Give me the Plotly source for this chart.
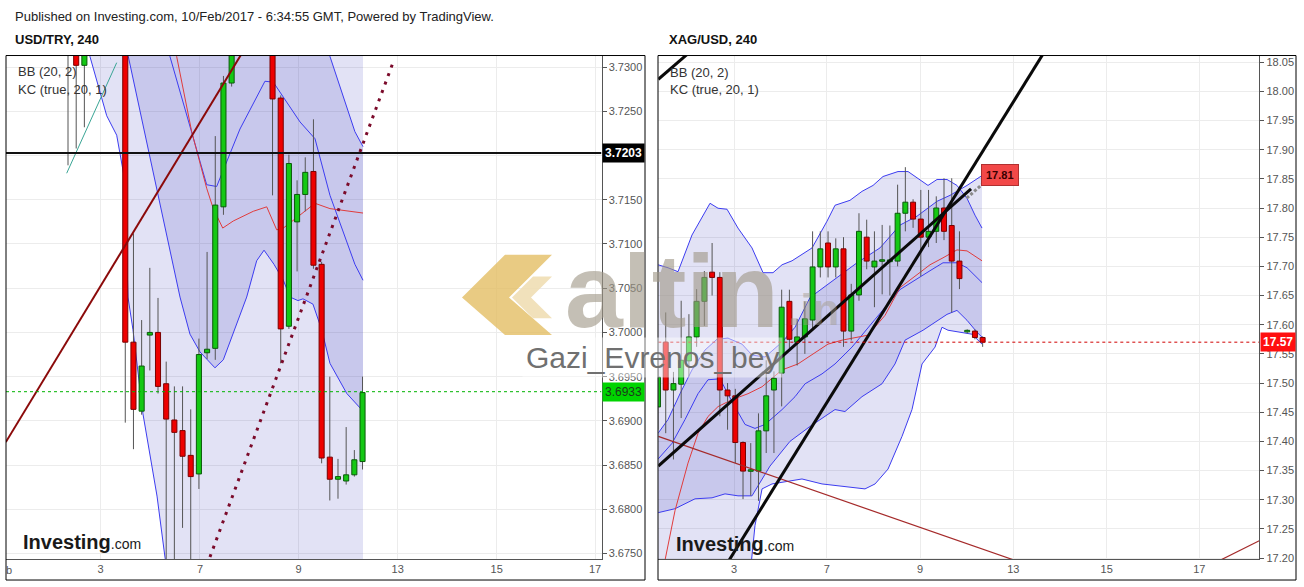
import plotly.graph_objects as go

W, H = 1304, 587
FONT = "Liberation Sans, Arial, sans-serif"

# ================= USD/TRY (left panel) =================
usd_idx   = [-4, -3, -2, 3, 4, 5, 6, 7, 8, 9, 10, 11, 12, 13, 14, 15, 16,
             21, 22, 23, 24, 25, 26, 27, 28, 29, 30, 31, 32]
usd_open  = [3.7325, 3.7345, 3.7302, 3.7350, 3.6989, 3.6911, 3.6997, 3.7000, 3.6942, 3.6901,
             3.6889, 3.6861, 3.6840, 3.6977, 3.6982, 3.7142, 3.7282,
             3.7345, 3.7265, 3.7007, 3.7125, 3.7156, 3.7182, 3.7077, 3.6859, 3.6834,
             3.6832, 3.6839, 3.6854]
usd_high  = [3.7360, 3.7360, 3.7360, 3.7360, 3.7112, 3.7014, 3.7073, 3.7039, 3.6967, 3.6939,
             3.6939, 3.6913, 3.6993, 3.7091, 3.7222, 3.7290, 3.7360,
             3.7360, 3.7268, 3.7201, 3.7172, 3.7198, 3.7241, 3.7080, 3.6950, 3.6857,
             3.6893, 3.6867, 3.6950]
usd_low   = [3.7189, 3.7208, 3.7232, 3.6898, 3.6868, 3.6907, 3.6957, 3.6931, 3.6735, 3.6738,
             3.6779, 3.6743, 3.6823, 3.6970, 3.6969, 3.7133, 3.7278,
             3.7155, 3.6965, 3.7004, 3.7069, 3.7137, 3.7072, 3.6852, 3.6810, 3.6812,
             3.6828, 3.6837, 3.6845]
usd_close = [3.7345, 3.7302, 3.7340, 3.6989, 3.6913, 3.6962, 3.7000, 3.6939, 3.6902, 3.6887,
             3.6860, 3.6837, 3.6975, 3.6981, 3.7144, 3.7282, 3.7340,
             3.7264, 3.7004, 3.7191, 3.7156, 3.7181, 3.7076, 3.6858, 3.6834, 3.6837,
             3.6839, 3.6856, 3.6932]

usd_bb_upper_x = [-11.6, 3.0, 10.0, 20.0, 32.06]
usd_bb_upper_y = [3.785, 3.775, 3.765, 3.760, 3.758]
usd_bb_lower_x = [-11.6, -2.5, -1.32, 0.73, 1.95, 2.96, 3.33, 3.94, 5.16, 6.88, 7.85, 9.08, 20.0, 32.06]
usd_bb_lower_y = [3.745, 3.7354, 3.7312, 3.7245, 3.7223, 3.7171, 3.7040, 3.7003, 3.6908, 3.6815,
                  3.6746, 3.668, 3.655, 3.660]
usd_bb_basis_x = [8.0, 9.28, 11.12, 12.95, 13.76, 14.91, 16.2, 18.65, 20.29, 21.51, 22.32, 26.19, 28.02, 32.06]
usd_bb_basis_y = [3.735, 3.7312, 3.7227, 3.7163, 3.7140, 3.7118, 3.7126, 3.7137, 3.7142, 3.7116,
                  3.7118, 3.7146, 3.7140, 3.7135]
usd_kc_upper_x = [-11.6, 3.37, 9.69, 13.96, 17.84, 19.96, 22.32, 24.11, 25.94, 28.02, 31.07, 32.06]
usd_kc_upper_y = [3.790, 3.770, 3.760, 3.737, 3.741, 3.748, 3.746, 3.743, 3.740, 3.7312, 3.7227, 3.7210]
usd_kc_lower_x = [-11.6, 2.11, 3.37, 8.06, 9.69, 10.91, 12.13, 13.96, 14.98, 17.84, 19.06, 19.96,
                  21.18, 22.32, 23.13, 24.11, 24.72, 25.94, 27.01, 28.02, 30.07, 32.06]
usd_kc_lower_y = [3.752, 3.7354, 3.7312, 3.7110, 3.7040, 3.6998, 3.6978, 3.6960, 3.6969, 3.7040,
                  3.7081, 3.7093, 3.7077, 3.7059, 3.7040, 3.7036, 3.7038, 3.7032, 3.7003, 3.6965,
                  3.6931, 3.6911]
usd_kc_basis_x = [7.24, 8.46, 12.95, 14.17, 17.02, 20.07, 21.09, 24.36, 26.19, 28.02, 31.07, 32.06]
usd_kc_basis_y = [3.7354, 3.7312, 3.7167, 3.7165, 3.7230, 3.7284, 3.7283, 3.7238, 3.7219, 3.7155,
                  3.7077, 3.7059]

usd_trend_x = [-11.6, 18.0]
usd_trend_y = [3.6876, 3.7327]
usd_dotted_x = [13.35, 35.76]
usd_dotted_y = [3.6746, 3.7306]
usd_teal_x = [-4.16, 1.95]
usd_teal_y = [3.7180, 3.7305]
usd_hline = 3.7203
usd_last = 3.6933

usd_tick_pos = [-0.03, 12.13, 24.17, 36.30, 48.40, 60.42]
usd_tick_text = ["3", "7", "9", "13", "15", "17"]
usd_y_range = [3.67436, 3.73131]
usd_x_range = [-11.58, 61.21]

# ================= XAG/USD (right panel) =================
xag_idx = list(range(-1, 42))
xag_open  = [17.459, 17.570, 17.488, 17.498, 17.538, 17.579, 17.640, 17.690, 17.681, 17.488,
             17.478, 17.398, 17.349, 17.349, 17.418, 17.488, 17.517, 17.640, 17.570, 17.579,
             17.608, 17.699, 17.740, 17.699, 17.730, 17.589, 17.651, 17.750, 17.699, 17.709,
             17.708, 17.709, 17.791, 17.810, 17.781, 17.750, 17.760, 17.800, 17.770, 17.709,
             17.588, 17.589, 17.578]
xag_high  = [17.530, 17.621, 17.519, 17.641, 17.618, 17.661, 17.692, 17.740, 17.690, 17.500,
             17.490, 17.400, 17.397, 17.448, 17.539, 17.520, 17.660, 17.660, 17.610, 17.640,
             17.760, 17.760, 17.760, 17.748, 17.750, 17.670, 17.791, 17.780, 17.760, 17.771,
             17.770, 17.840, 17.870, 17.815, 17.831, 17.831, 17.820, 17.851, 17.851, 17.760,
             17.592, 17.592, 17.580]
xag_low   = [17.420, 17.414, 17.369, 17.440, 17.511, 17.562, 17.598, 17.650, 17.443, 17.420,
             17.363, 17.301, 17.307, 17.298, 17.380, 17.380, 17.460, 17.560, 17.530, 17.550,
             17.590, 17.681, 17.681, 17.681, 17.562, 17.573, 17.641, 17.695, 17.630, 17.652,
             17.650, 17.700, 17.760, 17.766, 17.683, 17.733, 17.740, 17.745, 17.621, 17.661,
             17.585, 17.575, 17.562]
xag_close = [17.510, 17.488, 17.499, 17.539, 17.579, 17.640, 17.681, 17.681, 17.488, 17.478,
             17.398, 17.349, 17.351, 17.418, 17.478, 17.508, 17.630, 17.575, 17.579, 17.610,
             17.699, 17.730, 17.699, 17.730, 17.589, 17.651, 17.760, 17.709, 17.709, 17.711,
             17.711, 17.791, 17.810, 17.781, 17.750, 17.760, 17.800, 17.760, 17.709, 17.679,
             17.590, 17.578, 17.570]

xag_kc_upper_x = [-1.0, 0.30, 1.59, 3.40, 5.73, 6.77, 7.93, 9.35, 11.16, 12.59, 13.88, 15.05, 16.34,
                  18.93, 20.87, 21.90, 23.84, 25.39, 26.82, 28.11, 30.05, 31.35, 32.64, 33.93, 35.10,
                  36.39, 37.68, 38.98, 40.01, 40.92]
xag_kc_upper_y = [17.7027, 17.6976, 17.6908, 17.7537, 17.8081, 17.7996, 17.7979, 17.7656, 17.7316,
                  17.6891, 17.6891, 17.7027, 17.7095, 17.7316, 17.7775, 17.8047, 17.8132, 17.8285,
                  17.8387, 17.8540, 17.8625, 17.8625, 17.8506, 17.8387, 17.8489, 17.8489, 17.8387,
                  17.8166, 17.7877, 17.7656]
xag_kc_lower_x = [-1.0, 10.65, 11.55, 12.46, 13.75, 17.63, 20.22, 22.81, 25.78, 27.08, 28.76, 30.57,
                  31.86, 33.16, 34.84, 35.74, 36.52, 38.07, 39.62, 40.92]
xag_kc_lower_y = [17.1366, 17.1366, 17.2556, 17.3185, 17.3270, 17.3355, 17.3270, 17.3236, 17.3185,
                  17.3270, 17.3525, 17.4086, 17.4545, 17.5327, 17.5616, 17.5956, 17.5905, 17.5871,
                  17.5837, 17.5667]
xag_kc_basis_x = [-1.0, 0.82, 2.50, 4.18, 5.47, 7.02, 8.58, 10.26, 11.55, 12.85, 15.05, 16.73, 18.03,
                  20.22, 21.90, 24.10, 27.08, 30.31, 34.19, 35.87, 37.68, 38.98, 40.92]
xag_kc_basis_y = [17.3695, 17.3967, 17.4375, 17.4817, 17.5056, 17.5072, 17.4681, 17.4290, 17.4222,
                  17.4290, 17.4545, 17.4766, 17.4987, 17.5157, 17.5327, 17.5616, 17.6092, 17.6602,
                  17.6925, 17.7061, 17.7061, 17.6976, 17.6721]
xag_bb_upper_x = [-1.0, 0.30, 1.85, 3.40, 5.08, 6.64, 8.06, 9.87, 11.16, 12.85, 15.05, 16.73, 18.67,
                  21.65, 24.75, 27.72, 30.31, 32.51, 35.10, 36.78, 38.98, 40.92]
xag_bb_upper_y = [17.4137, 17.4375, 17.4817, 17.5225, 17.5565, 17.5752, 17.5769, 17.5667, 17.5480,
                  17.5446, 17.5701, 17.5956, 17.6466, 17.6755, 17.7061, 17.7316, 17.7707, 17.7860,
                  17.8115, 17.8217, 17.8387, 17.8557]
xag_bb_lower_x = [-1.0, 1.20, 3.79, 5.99, 7.67, 9.35, 11.16, 13.49, 16.08, 18.67, 21.90, 23.19, 25.39,
                  27.98, 29.66, 30.96, 33.29, 36.39, 37.68, 38.98, 40.27, 40.92]
xag_bb_lower_y = [17.2777, 17.2845, 17.3015, 17.3032, 17.3100, 17.3066, 17.3066, 17.3576, 17.4001,
                  17.4256, 17.4545, 17.4511, 17.4766, 17.4987, 17.5327, 17.5735, 17.5905, 17.6177,
                  17.6245, 17.6075, 17.5871, 17.5786]
xag_bb_basis_x = [-0.48, 1.20, 2.88, 4.18, 5.47, 6.77, 8.58, 10.65, 12.46, 15.05, 17.11, 20.99, 22.81,
                  26.17, 28.37, 30.31, 32.51, 34.19, 35.87, 37.68, 38.98, 40.92]
xag_bb_basis_y = [17.1706, 17.2811, 17.3627, 17.4137, 17.4426, 17.4596, 17.4715, 17.4817, 17.4936,
                  17.5225, 17.5327, 17.5667, 17.5735, 17.5820, 17.6160, 17.6636, 17.6857, 17.7027,
                  17.7146, 17.7282, 17.7265, 17.7095]

xag_line1_x = [-0.96, 39.5]
xag_line1_y = [17.3576, 17.833]
xag_line2_x = [8.0, 49.0]
xag_line2_y = [17.192, 18.068]
xag_line3_x = [-0.96, 3.0]
xag_line3_y = [18.0206, 18.066]
xag_red1_x = [-0.96, 46.0]
xag_red1_y = [17.4086, 17.1922]
xag_red2_x = [71.5, 77.0]
xag_red2_y = [17.1947, 17.231]
xag_pointer_x = [38.94, 40.88]
xag_pointer_y = [17.817, 17.840]
xag_callout = 17.81
xag_callout_pos = (43.2, 17.857)
xag_last = 17.57

xag_tick_pos = [8.84, 20.83, 32.90, 44.97, 57.05, 69.03]
xag_tick_text = ["3", "7", "9", "13", "15", "17"]
xag_y_range = [17.198, 18.0614]
xag_x_range = [-0.96, 76.79]

# ================= styles =================
BAND_FILL = "rgba(30,30,180,0.13)"
BAND_LINE = "#3c3cf0"
BASIS_RED = "#e03c3c"
UP_FILL, UP_EDGE = "#14c814", "#0a5a0a"
DN_FILL, DN_EDGE = "#ee0000", "#7a0000"
WICK = "#555555"
GRID = "#ececec"
AXC = "#555555"


def P(x):
    return x / W


def Q(y):
    return 1 - y / H


fig = go.Figure()


def add(tr, xa, ya):
    tr.update(xaxis=xa, yaxis=ya, showlegend=False, hoverinfo="skip")
    fig.add_trace(tr)


def band(ux, uy, lx, ly, xa, ya):
    add(go.Scatter(x=ux + lx[::-1], y=uy + ly[::-1], mode="lines", fill="toself",
                   fillcolor=BAND_FILL, line=dict(width=0)), xa, ya)


def line(x, y, xa, ya, color, width=1, dash=None):
    add(go.Scatter(x=x, y=y, mode="lines", line=dict(color=color, width=width, dash=dash)), xa, ya)


def candles(idx, o, h, l, c, half, min_h, xa, ya):
    wx, wy, ux, uy, dx, dy = [], [], [], [], [], []
    for i, op, hi, lo, cl in zip(idx, o, h, l, c):
        wx += [i, i, None]
        wy += [lo, hi, None]
        b0, b1 = min(op, cl), max(op, cl)
        if b1 - b0 < min_h:
            m = (b0 + b1) / 2
            b0, b1 = m - min_h / 2, m + min_h / 2
        xs = [i - half, i + half, i + half, i - half, i - half, None]
        ys = [b0, b0, b1, b1, b0, None]
        if cl >= op:
            ux += xs; uy += ys
        else:
            dx += xs; dy += ys
    line(wx, wy, xa, ya, WICK, 1)
    add(go.Scatter(x=ux, y=uy, mode="lines", fill="toself", fillcolor=UP_FILL,
                   line=dict(color=UP_EDGE, width=1)), xa, ya)
    add(go.Scatter(x=dx, y=dy, mode="lines", fill="toself", fillcolor=DN_FILL,
                   line=dict(color=DN_EDGE, width=1)), xa, ya)


# ----- left panel -----
band(usd_bb_upper_x, usd_bb_upper_y, usd_bb_lower_x, usd_bb_lower_y, "x", "y")
band(usd_kc_upper_x, usd_kc_upper_y, usd_kc_lower_x, usd_kc_lower_y, "x", "y")
for bx, by in [(usd_bb_lower_x, usd_bb_lower_y), (usd_kc_upper_x, usd_kc_upper_y),
               (usd_kc_lower_x, usd_kc_lower_y), (usd_kc_basis_x, usd_kc_basis_y)]:
    line(bx, by, "x", "y", BAND_LINE, 1)
line(usd_bb_basis_x, usd_bb_basis_y, "x", "y", BASIS_RED, 1)
candles(usd_idx, usd_open, usd_high, usd_low, usd_close, 0.31, 0.00016, "x", "y")
line(usd_trend_x, usd_trend_y, "x", "y", "#8b0a0a", 2)
line(usd_teal_x, usd_teal_y, "x", "y", "#3aa595", 1)
line(usd_dotted_x, usd_dotted_y, "x", "y", "#7b0a2a", 3, "3px,6px")
line(usd_x_range, [usd_hline, usd_hline], "x", "y", "#111111", 2)
line(usd_x_range, [usd_last, usd_last], "x", "y", "#00b300", 1, "dot")

# ----- right panel -----
band(xag_kc_upper_x, xag_kc_upper_y, xag_kc_lower_x, xag_kc_lower_y, "x2", "y2")
band(xag_bb_upper_x, xag_bb_upper_y, xag_bb_lower_x, xag_bb_lower_y, "x2", "y2")
for bx, by in [(xag_kc_upper_x, xag_kc_upper_y), (xag_kc_lower_x, xag_kc_lower_y),
               (xag_kc_basis_x, xag_kc_basis_y), (xag_bb_upper_x, xag_bb_upper_y),
               (xag_bb_lower_x, xag_bb_lower_y)]:
    line(bx, by, "x2", "y2", BAND_LINE, 1)
line(xag_bb_basis_x, xag_bb_basis_y, "x2", "y2", BASIS_RED, 1)
candles(xag_idx, xag_open, xag_high, xag_low, xag_close, 0.32, 0.0026, "x2", "y2")
line(xag_red1_x, xag_red1_y, "x2", "y2", "#a52a2a", 1.2)
line(xag_red2_x, xag_red2_y, "x2", "y2", "#a52a2a", 1.2)
line(xag_line1_x, xag_line1_y, "x2", "y2", "#0a0a0a", 3)
line(xag_line2_x, xag_line2_y, "x2", "y2", "#0a0a0a", 3)
line(xag_line3_x, xag_line3_y, "x2", "y2", "#0a0a0a", 3)
line(xag_pointer_x, xag_pointer_y, "x2", "y2", "#8a8a8a", 3, "3px,2px")
line(xag_x_range, [xag_last, xag_last], "x2", "y2", "#d00000", 1, "dot")

# ----- axes -----
ydom = [Q(564), Q(56)]
common_x = dict(showgrid=True, gridcolor=GRID, gridwidth=1, zeroline=False, showline=True,
                linecolor=AXC, linewidth=1, ticks="", tickfont=dict(family=FONT, size=11, color=AXC),
                tickmode="array")
common_y = dict(showgrid=True, gridcolor=GRID, gridwidth=1, zeroline=False, showline=True,
                linecolor=AXC, linewidth=1, side="right", ticks="outside", ticklen=4, tickcolor=AXC,
                tickfont=dict(family=FONT, size=11, color=AXC))
fig.update_layout(
    xaxis=dict(domain=[P(6), P(601.5)], range=usd_x_range, tickvals=usd_tick_pos,
               ticktext=usd_tick_text, anchor="y", **common_x),
    yaxis=dict(domain=ydom, range=usd_y_range, dtick=0.005, tick0=3.675, tickformat=".4f",
               anchor="x", **common_y),
    xaxis2=dict(domain=[P(658.3), P(1259.3)], range=xag_x_range, tickvals=xag_tick_pos,
                ticktext=xag_tick_text, anchor="y2", **common_x),
    yaxis2=dict(domain=ydom, range=xag_y_range, dtick=0.05, tick0=17.25, tickformat=".2f",
                anchor="x2", **common_y),
)

# ----- watermark shapes (gold logo) and panel frames -----
def path(pts):
    return "M " + " L ".join(f"{P(x):.5f},{Q(y):.5f}" for x, y in pts) + " Z"


shapes = [
    dict(type="path", xref="paper", yref="paper", layer="above", line=dict(width=0),
         fillcolor="rgba(228,190,100,0.80)",
         path=path([(462, 300), (505, 257), (552, 257), (509, 300), (552, 338), (505, 338)])),
    dict(type="path", xref="paper", yref="paper", layer="above", line=dict(width=0),
         fillcolor="rgba(240,222,180,0.90)",
         path=path([(512, 300), (533, 279), (552, 279), (531, 300), (552, 321), (533, 321)])),
    dict(type="rect", xref="paper", yref="paper", x0=P(6), x1=P(645), y0=Q(585), y1=Q(56),
         line=dict(color="#000", width=1)),
    dict(type="rect", xref="paper", yref="paper", x0=P(658), x1=P(1296), y0=Q(585), y1=Q(56),
         line=dict(color="#000", width=1)),
]

ann = []


def text(x, y, s, size=13, color="#222", bold=False, anchor="left", **kw):
    ann.append(dict(xref="paper", yref="paper", x=P(x), y=Q(y), text=(f"<b>{s}</b>" if bold else s),
                    showarrow=False, xanchor=anchor, yanchor="middle",
                    font=dict(family=FONT, size=size, color=color), **kw))


text(13, 17, "Published on Investing.com, 10/Feb/2017 - 6:34:55 GMT, Powered by TradingView.", 13, "#222")
text(13, 40, "USD/TRY, 240", 13, "#111", True)
text(667, 40, "XAG/USD, 240", 13, "#111", True)
text(16, 72, "BB (20, 2)", 13, "#333")
text(16, 90, "KC (true, 20, 1)", 13, "#333")
text(668, 73, "BB (20, 2)", 13, "#333")
text(668, 90, "KC (true, 20, 1)", 13, "#333")
text(4, 575, "b", 11, AXC)
text(21, 547, "<b>Investing</b><span style='font-size:14px'>.com</span>", 20, "#1a1a1a")
text(674, 549, "<b>Investing</b><span style='font-size:14px'>.com</span>", 20, "#1a1a1a")
text(672, 294, "altin", 104, "rgba(160,152,135,0.62)", True, "center")
text(786, 312, ".in", 44, "rgba(160,152,135,0.45)", True)
text(652, 361, "Gazi_Evrenos_bey", 30, "#707070", False, "center",
     bgcolor="rgba(255,255,255,0.45)", borderpad=3)

# price badges
ann.append(dict(xref="paper", yref="y", x=P(602), y=usd_hline, text=f"<b>{usd_hline:.4f}</b>",
                showarrow=False, xanchor="left", yanchor="middle", bgcolor="#000",
                font=dict(family=FONT, size=12, color="#fff"), borderpad=2))
ann.append(dict(xref="paper", yref="y", x=P(602), y=usd_last, text=f"{usd_last:.4f}",
                showarrow=False, xanchor="left", yanchor="middle", bgcolor="#00d400",
                font=dict(family=FONT, size=12, color="#1c3a1c"), borderpad=2))
ann.append(dict(xref="paper", yref="y2", x=P(1259.5), y=xag_last, text=f"<b>{xag_last:.2f}</b>",
                showarrow=False, xanchor="left", yanchor="middle", bgcolor="#ff1010",
                font=dict(family=FONT, size=12, color="#fff"), borderpad=2))
ann.append(dict(xref="x2", yref="y2", x=xag_callout_pos[0], y=xag_callout_pos[1],
                text=f"<b>{xag_callout:.2f}</b>", showarrow=False, xanchor="center",
                yanchor="middle", bgcolor="#f24848", bordercolor="#b03030", borderwidth=1,
                font=dict(family=FONT, size=11, color="#3a0000"), borderpad=4))

fig.update_layout(
    width=W, height=H, autosize=False,
    margin=dict(l=0, r=0, t=0, b=0),
    paper_bgcolor="#fff", plot_bgcolor="#fff",
    shapes=shapes, annotations=ann,
    font=dict(family=FONT),
)

fig.write_html("out.html", config={"displayModeBar": False},
               post_script="document.body.style.margin='0px';document.body.style.overflow='hidden';")
